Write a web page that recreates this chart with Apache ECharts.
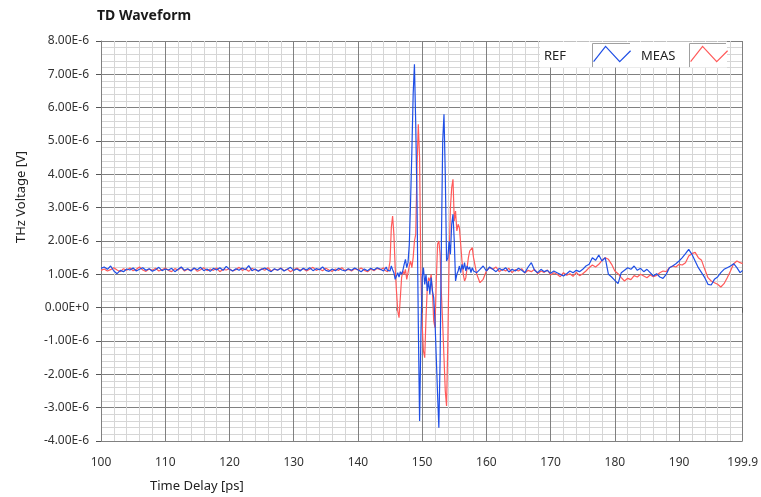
<!DOCTYPE html>
<html>
<head>
<meta charset="utf-8">
<script src="https://cdn.jsdelivr.net/npm/echarts@6/dist/echarts.min.js"></script>
<style>
html,body{margin:0;padding:0;background:#fff;}
#chart{width:761px;height:497px;}
</style>
</head>
<body>
<div id="chart"></div>
<script>
// ---- Data (voltage values in units of 1E-6 V) ----
const titleText = 'TD Waveform';
const xAxisTitle = 'Time Delay [ps]';
const yAxisTitle = 'THz Voltage [V]';
const seriesNames = ['REF', 'MEAS'];

const timeA = [
100,100.5,101,101.5,102,102.5,103,103.5,104,104.5,
105,105.5,106,106.5,107,107.5,108,108.5,109,109.5,
110,110.5,111,111.5,112,112.5,113,113.5,114,114.5,
115,115.5,116,116.5,117,117.5,118,118.5,119,119.5,
120,120.5,121,121.5,122,122.5,123,123.5,124,124.5,
125,125.5,126,126.5,127,127.5,128,128.5,129,129.5,
130,130.5,131,131.5,132,132.5,133,133.5,134,134.5,
135,135.5,136,136.5,137,137.5,138,138.5,139,139.5,
140,140.5,141,141.5,142,142.5,143,143.5,144];
const timeB = [
144.2,144.4,144.6,144.8,145,145.2,145.4,145.6,145.8,146,
146.2,146.4,146.6,146.8,147,147.2,147.4,147.6,147.8,148,
148.2,148.4,148.6,148.8,149,149.2,149.4,149.6,149.8,150,
150.2,150.4,150.6,150.8,151,151.2,151.4,151.6,151.8,152,
152.2,152.4,152.6,152.8,153,153.2,153.4,153.6,153.8,154,
154.2,154.4,154.6,154.8,155,155.2,155.4,155.6,155.8,156,
156.2,156.4,156.6,156.8,157,157.2,157.4,157.6,157.8,158];
const timeC = [
158.5,159,159.5,160,160.5,161,161.5,162,162.5,163,
163.5,164,164.5,165,165.5,166,166.5,167,167.5,168,
168.5,169,169.5,170,170.5,171,171.5,172,172.5,173,
173.5,174,174.5,175,175.5,176,176.5,177,177.5,178,
178.5,179,179.5,180,180.5,181,181.5,182,182.5,183,
183.5,184,184.5,185,185.5,186,186.5,187,187.5,188,
188.5,189,189.5,190,190.5,191,191.5,192,192.5,193,
193.5,194,194.5,195,195.5,196,196.5,197,197.5,198,
198.5,199,199.5,199.9];

const refA = [
1.18,1.22,1.15,1.25,1.10,1.02,1.12,1.08,1.16,1.13,
1.19,1.10,1.15,1.20,1.12,1.17,1.09,1.14,1.21,1.11,
1.16,1.13,1.18,1.08,1.15,1.22,1.12,1.17,1.10,1.19,
1.14,1.21,1.11,1.16,1.09,1.18,1.13,1.20,1.12,1.24,
1.15,1.10,1.17,1.12,1.19,1.14,1.26,1.11,1.16,1.09,
1.15,1.19,1.13,1.08,1.17,1.12,1.18,1.10,1.15,1.21,
1.12,1.16,1.10,1.18,1.13,1.20,1.11,1.17,1.14,1.22,
1.12,1.09,1.16,1.11,1.18,1.13,1.10,1.17,1.12,1.19,
1.14,1.08,1.16,1.11,1.18,1.13,1.20,1.15,1.10];
const refB = [
1.15,1.22,1.12,1.18,1.10,1.25,1.14,1.05,0.85,0.95,
1.05,0.92,1.08,1.00,1.12,1.30,1.45,1.20,1.35,1.90,
3.20,4.70,6.40,7.30,5.50,3.20,-0.50,-3.40,-0.90,0.90,
1.20,0.70,1.00,0.50,0.80,0.40,0.90,0.50,0.30,-0.40,
-1.50,-2.60,-3.60,-1.50,2.00,5.00,5.80,4.00,1.40,1.50,
2.00,1.60,2.50,2.80,2.00,0.80,1.00,1.10,1.25,1.05,
1.30,1.15,1.35,1.10,1.25,1.15,1.22,1.05,1.20,1.10];
const refC = [
1.05,1.15,1.25,1.10,1.22,1.15,1.08,1.18,1.12,1.20,
1.07,1.15,1.10,1.18,1.12,1.05,1.22,1.35,1.12,1.05,
1.15,1.08,1.12,1.03,1.10,1.05,1.00,0.95,1.02,1.10,
1.05,1.12,1.08,1.15,1.25,1.30,1.50,1.42,1.58,1.40,
1.50,1.00,0.92,0.82,0.72,1.05,1.12,1.20,1.15,1.25,
1.12,1.18,1.08,1.15,1.05,0.95,1.02,0.92,0.88,1.00,
1.20,1.25,1.32,1.40,1.50,1.62,1.75,1.60,1.40,1.20,
1.05,0.90,0.70,0.68,0.85,0.92,1.05,1.15,1.20,1.25,
1.32,1.20,1.05,1.12];

const measA = [
1.12,1.16,1.10,1.14,1.20,1.13,1.08,1.17,1.12,1.19,
1.11,1.15,1.22,1.13,1.09,1.16,1.12,1.18,1.10,1.14,
1.19,1.12,1.08,1.17,1.13,1.21,1.10,1.15,1.12,1.18,
1.09,1.14,1.20,1.11,1.16,1.12,1.19,1.08,1.15,1.13,
1.17,1.10,1.14,1.21,1.12,1.16,1.09,1.18,1.13,1.11,
1.17,1.12,1.20,1.10,1.15,1.13,1.19,1.11,1.16,1.08,
1.14,1.19,1.12,1.17,1.10,1.15,1.21,1.12,1.16,1.11,
1.18,1.13,1.09,1.16,1.12,1.20,1.11,1.15,1.10,1.17,
1.13,1.19,1.12,1.08,1.16,1.11,1.18,1.14,1.20];
const measB = [
1.12,1.18,1.08,1.15,1.40,2.40,2.75,2.20,1.20,0.50,
-0.10,-0.30,0.30,0.90,1.10,1.00,1.15,0.85,0.90,1.25,
1.40,1.20,1.50,2.00,2.20,4.20,5.50,4.50,1.00,-0.50,
-1.30,-1.50,-0.30,0.60,0.90,0.80,1.00,0.50,-0.40,-0.60,
0.80,1.90,2.00,1.60,0.40,-0.50,-1.50,-2.50,-2.95,-1.00,
1.50,3.00,3.60,3.85,2.60,2.90,2.30,2.50,2.40,1.90,
1.40,1.00,0.80,0.90,1.20,1.50,1.70,1.75,1.80,1.50];
const measC = [
1.00,0.75,0.85,1.10,1.20,1.15,1.22,1.08,1.15,1.10,
1.18,1.05,1.14,1.10,1.17,1.04,1.12,1.08,1.15,1.02,
1.10,1.06,1.13,0.98,1.05,1.00,0.93,1.05,0.97,1.02,
0.94,1.06,0.96,1.02,1.10,1.20,1.28,1.22,1.30,1.42,
1.50,1.45,1.30,1.10,1.02,0.90,0.80,0.88,0.84,0.96,
0.92,1.00,0.95,0.90,0.98,0.93,0.97,1.05,1.10,1.08,
1.20,1.25,1.22,1.30,1.28,1.35,1.55,1.62,1.66,1.50,
1.42,1.15,0.90,0.80,0.75,0.70,0.62,0.72,0.90,1.10,
1.32,1.40,1.35,1.32];

const xMin = 100, xMax = 199.9, xStep = 10;
const yMin = -4, yMax = 8, yStep = 1;

// ---- build ----
const time = timeA.concat(timeB, timeC);
const refVals = refA.concat(refB, refC);
const measVals = measA.concat(measB, measC);
const zip = (t, v) => t.map((x, i) => [x, v[i]]);

const BLUE = '#1f4fe6';
const RED = '#ff5a5a';
const FONT = '"Noto Sans", "DejaVu Sans", sans-serif';
const zig = 'path://M2,18 L13,4 L26,18 L36,8';

function iconLegend(name, color, left) {
  return {
    left: left, top: 43, padding: 0, orient: 'horizontal',
    itemWidth: 37, itemHeight: 22, itemGap: 0,
    selectedMode: false, symbolKeepAspect: true,
    formatter: () => '',
    textStyle: {fontSize: 1},
    data: [{name: name, icon: zig, itemStyle: {color: 'rgba(0,0,0,0)', borderColor: color, borderWidth: 1.2}}]
  };
}

const chart = echarts.init(document.getElementById('chart'), null, {renderer: 'canvas'});
chart.setOption({
  animation: false,
  backgroundColor: '#ffffff',
  grid: {left: 101, top: 41, right: 15, bottom: 56, containLabel: false},
  xAxis: {
    type: 'value', min: xMin, max: xMax, interval: xStep,
    axisLine: {show: true, lineStyle: {color: '#808080'}},
    axisTick: {show: true, length: 5, lineStyle: {color: '#555'}},
    minorTick: {show: true, splitNumber: 5, length: 3, lineStyle: {color: '#888'}},
    axisLabel: {margin: 16, fontFamily: FONT, fontSize: 12, color: '#333',
      formatter: v => (Math.abs(v - xMax) < 1e-6 ? xMax.toFixed(1) : String(Math.round(v)))},
    splitLine: {show: true, lineStyle: {color: '#808080', width: 1}},
    minorSplitLine: {show: true, lineStyle: {color: '#d6d6d6', width: 1}}
  },
  yAxis: {
    type: 'value', min: yMin, max: yMax, interval: yStep,
    axisLine: {show: true, lineStyle: {color: '#808080'}},
    axisTick: {show: true, length: 5, lineStyle: {color: '#555'}},
    minorTick: {show: false, splitNumber: 5},
    axisLabel: {margin: 12, fontFamily: FONT, fontSize: 12, color: '#333',
      formatter: v => (Math.abs(v) < 1e-9 ? '0.00E+0' : v.toFixed(2) + 'E-6')},
    splitLine: {show: true, lineStyle: {color: '#808080', width: 1}},
    minorSplitLine: {show: true, lineStyle: {color: '#d6d6d6', width: 1}}
  },
  legend: [iconLegend(seriesNames[0], BLUE, 593), iconLegend(seriesNames[1], RED, 690)],
  graphic: [
    {type: 'text', left: 97, top: 9, style: {text: titleText, font: 'bold 14px ' + FONT, fill: '#1a1a1a'}},
    {type: 'text', x: 21, y: 197, rotation: Math.PI / 2,
      style: {text: yAxisTitle, font: '13px ' + FONT, fill: '#222', align: 'center', verticalAlign: 'middle'}},
    {type: 'text', left: 150, top: 480, style: {text: xAxisTitle, font: '13px ' + FONT, fill: '#222'}},
    {type: 'rect', z: 1, shape: {x: 540, y: 41.5, width: 187, height: 26}, style: {fill: '#ffffff'}},
    {type: 'text', z: 5, x: 544, y: 56, style: {text: seriesNames[0], font: '13px ' + FONT, fill: '#222', verticalAlign: 'middle'}},
    {type: 'text', z: 5, x: 641, y: 56, style: {text: seriesNames[1], font: '13px ' + FONT, fill: '#222', verticalAlign: 'middle'}},
    {type: 'polyline', z: 200, shape: {points: [[592.5, 67], [592.5, 43.5], [630, 43.5]]},
      style: {stroke: '#a0a0a0', lineWidth: 1, fill: null}},
    {type: 'polyline', z: 200, shape: {points: [[689.5, 67], [689.5, 43.5], [726, 43.5]]},
      style: {stroke: '#a0a0a0', lineWidth: 1, fill: null}}
  ],
  series: [
    {name: seriesNames[1], type: 'line', data: zip(time, measVals), showSymbol: false, symbol: 'none',
      lineStyle: {color: RED, width: 1.2}, itemStyle: {color: RED}, z: 2},
    {name: seriesNames[0], type: 'line', data: zip(time, refVals), showSymbol: false, symbol: 'none',
      lineStyle: {color: BLUE, width: 1.2}, itemStyle: {color: BLUE}, z: 3}
  ]
});
</script>
</body>
</html>
